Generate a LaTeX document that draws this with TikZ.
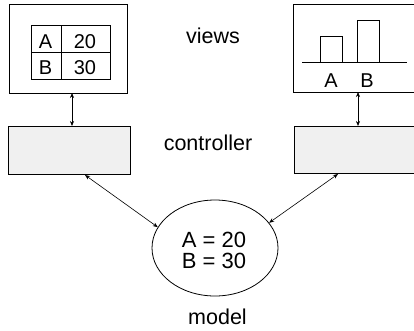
\documentclass[tikz,border=0pt]{standalone}
\usepackage{fontspec}
\setmainfont{Liberation Sans}
\usetikzlibrary{arrows.meta,shapes.geometric}
\begin{document}
\begin{tikzpicture}[x=1pt,y=-1pt,
  frame/.style={line width=0.8pt},
  link/.style={line width=0.6pt,{Stealth[length=5pt,width=4pt]}-{Stealth[length=5pt,width=4pt]}},
  lbl/.style={font=\fontsize{21.5}{24}\selectfont,anchor=base,inner sep=0pt},
  cell/.style={font=\fontsize{20}{22}\selectfont,anchor=base,inner sep=0pt}]
\useasboundingbox (0,0) rectangle (414,330);
\clip (0,0) rectangle (414,330);
% left view
\draw[frame] (9,4) rectangle (127,93);
\coordinate (lvb) at (72,93);
\draw[frame] (31,25) rectangle (110,79);
\draw[frame] (61,25) -- (61,79) (31,52) -- (110,52);
\node[cell] (ta) at (45.5,48) {A};
\node[cell] (t20) at (85,48) {20};
\node[cell] (tb) at (45.5,74.5) {B};
\node[cell] (t30) at (85,74.5) {30};
% right view
\draw[frame] (293,4) rectangle (420,92);
\coordinate (rvb) at (358,92);
\draw[frame] (302,62) -- (407,62);
\draw[frame] (320,62) -- (320,36) -- (342,36) -- (342,62);
\draw[frame] (357,62) -- (357,20) -- (379,20) -- (379,62);
\node[cell] (ba) at (331,87) {A};
\node[cell] (bb) at (367,87) {B};
% controllers
\draw[frame,fill=black!6] (8,126) rectangle (130,174);
\coordinate (lct) at (72,126);
\coordinate (lcb) at (85,175);
\fill[black!6] (294,126) rectangle (420,173);
\draw[frame] (420,126) -- (294,126) -- (294,173) -- (420,173);
\coordinate (rct) at (358,126);
\coordinate (rcb) at (338,174);
% model
\node[draw,ellipse,line width=0.8pt,minimum width=126pt,minimum height=96pt] (m) at (215,248) {};
\node[font=\fontsize{22}{21}\selectfont,anchor=base,inner sep=0pt] (ma) at (214,247) {A = 20};
\node[font=\fontsize{22}{21}\selectfont,anchor=base,inner sep=0pt] (mb) at (214,268) {B = 30};
% labels
\node[lbl] (views) at (213,43) {views};
\node[lbl] (ctl) at (208,150) {controller};
\node[lbl] (model) at (217.5,324) {model};
% links
\draw[link] (lvb) -- (lct);
\draw[link] (rvb) -- (rct);
\draw[link] (lcb) -- (m.160);
\draw[link] (rcb) -- (m.25);
\end{tikzpicture}
\end{document}
